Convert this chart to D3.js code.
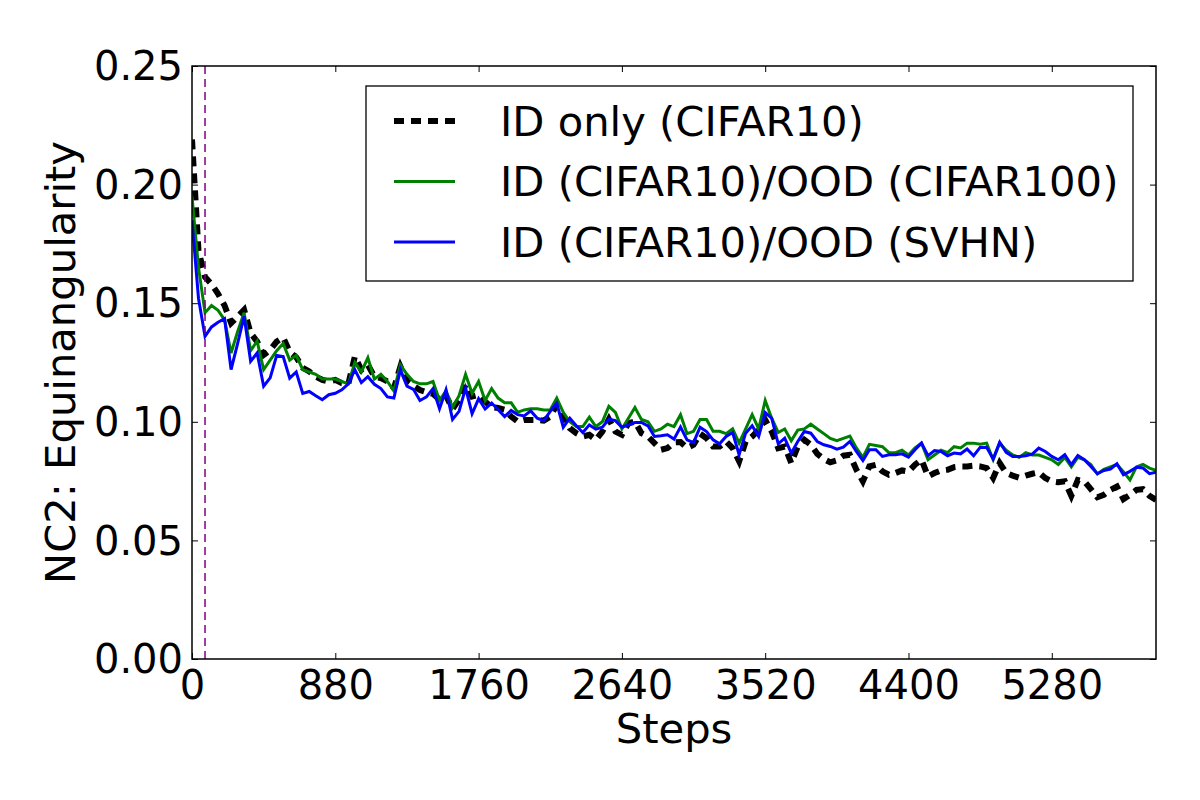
<!DOCTYPE html>
<html>
<head>
<meta charset="utf-8">
<script src="https://cdn.jsdelivr.net/npm/d3@7"></script>
<style>
  body { margin: 0; background: #fff; }
  svg text { font-family: "DejaVu Sans", sans-serif; fill: #000; }
</style>
</head>
<body>
<svg id="chart"></svg>
<script>
// training steps at which NC2 was logged
const steps = [0,40,80,120,160,200,240,280,320,360,400,440,480,520,560,600,640,680,720,760,
  800,840,880,920,960,1000,1040,1080,1120,1160,1200,1240,1280,1320,1360,1400,1440,1480,1520,1560,
  1600,1640,1680,1720,1760,1800,1840,1880,1920,1960,2000,2040,2080,2120,2160,2200,2240,2280,2320,2360,
  2400,2440,2480,2520,2560,2600,2640,2680,2720,2760,2800,2840,2880,2920,2960,3000,3040,3080,3120,3160,
  3200,3240,3280,3320,3360,3400,3440,3480,3520,3560,3600,3640,3680,3720,3760,3800,3840,3880,3920,3960,
  4000,4040,4080,4120,4160,4200,4240,4280,4320,4360,4400,4440,4480,4520,4560,4600,4640,4680,4720,4760,
  4800,4840,4880,4920,4960,5000,5040,5080,5120,5160,5200,5240,5280,5320,5360,5400,5440,5480,5520,5560,
  5600,5640,5680,5720,5760,5800,5840,5880,5920];

const idOnly = [
  .219,.172,.161,.158,.154,.149,.1416,.1444,.1472,.1374,
  .1338,.1282,.1303,.1338,.1355,.1295,.1272,.1228,.1212,.119,
  .1177,.117,.1177,.1163,.116,.1275,.1219,.124,.119,.1184,
  .117,.1142,.1233,.1172,.1152,.1134,.1125,.1118,.1093,.111,
  .1054,.1093,.1156,.1107,.1114,.1086,.1062,.1058,.1051,.1022,
  .1001,.1008,.1008,.1008,.1005,.1022,.1072,.1022,.0973,.0952,
  .0938,.0945,.0924,.0959,.1011,.0959,.0945,.0994,.1001,.0952,
  .0938,.091,.0882,.0889,.0913,.0915,.089,.0903,.095,.0931,
  .0896,.0896,.0917,.0889,.0833,.0917,.0938,.0966,.1008,.0959,
  .0889,.0896,.0826,.0896,.0924,.0903,.0865,.0843,.0829,.0837,
  .0857,.0861,.0798,.0749,.0812,.0819,.0791,.0777,.0784,.0795,
  .079,.0819,.084,.077,.0784,.0795,.0798,.0809,.0812,.0812,
  .0815,.0812,.0805,.0763,.0826,.0784,.0773,.0764,.0773,.0781,
  .0787,.0763,.0749,.0745,.0749,.0688,.0755,.0749,.0716,.0682,
  .0692,.0713,.0727,.0674,.0692,.0713,.0716,.0688,.0671];

const oodCifar100 = [
  .195,.165,.146,.149,.147,.143,.129,.138,.146,.130,
  .134,.122,.126,.130,.133,.126,.128,.122,.121,.120,
  .118,.118,.118,.117,.116,.125,.121,.127,.118,.120,
  .117,.113,.124,.120,.117,.116,.116,.117,.109,.113,
  .106,.111,.120,.112,.117,.109,.114,.110,.108,.108,
  .104,.105,.1055,.1055,.105,.105,.110,.104,.100,.098,
  .098,.102,.098,.100,.1065,.104,.097,.1015,.106,.101,
  .100,.096,.097,.099,.098,.103,.095,.096,.101,.101,
  .096,.096,.095,.097,.091,.097,.103,.097,.109,.1015,
  .0955,.097,.092,.0965,.097,.099,.097,.095,.093,.092,
  .093,.094,.089,.085,.0905,.090,.0895,.087,.087,.088,
  .086,.089,.091,.084,.086,.088,.087,.0895,.089,.091,
  .091,.0905,.091,.084,.091,.088,.086,.085,.087,.086,
  .086,.085,.084,.082,.085,.081,.085,.084,.082,.078,
  .080,.081,.082,.079,.0755,.081,.082,.0805,.0795];

const oodSvhn = [
  .185,.152,.136,.140,.142,.1435,.122,.133,.1445,.1255,
  .129,.115,.1185,.128,.1275,.1184,.121,.112,.1128,.111,
  .1093,.1114,.112,.1135,.116,.122,.1165,.119,.1158,.114,
  .1105,.110,.122,.115,.1137,.109,.1105,.114,.1055,.1135,
  .101,.1044,.1142,.1034,.1097,.1054,.1079,.1051,.1022,.1048,
  .103,.1025,.1046,.1015,.1005,.1044,.1079,.0977,.1015,.0983,
  .0955,.0987,.0969,.0977,.1011,.1005,.0977,.0987,.0997,.0997,
  .0983,.0938,.0941,.0945,.0927,.0978,.0924,.0912,.0977,.0959,
  .0924,.0907,.0938,.0955,.0861,.0952,.0983,.0938,.1039,.1015,
  .0907,.0931,.0868,.0917,.0959,.0952,.0917,.0903,.0896,.0885,
  .0893,.0917,.0875,.0837,.0882,.0882,.0854,.0861,.0861,.0865,
  .0851,.0882,.091,.0857,.0879,.0875,.0857,.0868,.0865,.0885,
  .0857,.0892,.0893,.0843,.0914,.0871,.0854,.0854,.0857,.0864,
  .0889,.0875,.0854,.084,.0861,.0819,.0858,.084,.0812,.0781,
  .0795,.0801,.0823,.0777,.0791,.0808,.0805,.0781,.0787];

const seriesNames = ["ID only (CIFAR10)", "ID (CIFAR10)/OOD (CIFAR100)", "ID (CIFAR10)/OOD (SVHN)"];
const xTicks = [0, 880, 1760, 2640, 3520, 4400, 5280];
const yTicks = [0, 0.05, 0.10, 0.15, 0.20, 0.25];
const markerStep = 80;

// line styles, one per series
const styles = [
    { color: "#000000", width: 6, dash: "10,7" },
    { color: "#008000", width: 3, dash: null },
    { color: "#0000ff", width: 3, dash: null }
];
const seriesValues = [idOnly, oodCifar100, oodSvhn];

const margin = { top: 66, right: 44, bottom: 141, left: 192 };
const width = 1200 - margin.left - margin.right;
const height = 800 - margin.top - margin.bottom;

const svg = d3.select("#chart")
    .attr("width", 1200)
    .attr("height", 800);

const g = svg.append("g")
    .attr("transform", `translate(${margin.left},${margin.top})`);

const x = d3.scaleLinear().domain([0, 5920]).range([0, width]);
const y = d3.scaleLinear().domain([0, 0.25]).range([height, 0]);

g.append("clipPath").attr("id", "plot-clip")
    .append("rect").attr("width", width).attr("height", height);

// series lines
const line = d3.line()
    .x((d, i) => x(steps[i]))
    .y(d => y(d));

const plot = g.append("g").attr("clip-path", "url(#plot-clip)");

seriesValues.forEach(function (vals, k) {
    plot.append("path")
        .datum(vals)
        .attr("fill", "none")
        .attr("stroke", styles[k].color)
        .attr("stroke-width", styles[k].width)
        .attr("stroke-dasharray", styles[k].dash)
        .attr("stroke-linejoin", "miter")
        .attr("d", line);
});

// vertical marker
plot.append("line")
    .attr("x1", x(markerStep)).attr("x2", x(markerStep))
    .attr("y1", 0).attr("y2", height)
    .attr("stroke", "#800080")
    .attr("stroke-width", 1.5)
    .attr("stroke-dasharray", "8,5");

// axes, ticks point inward like classic matplotlib
const tickFont = "40px";
const labelFont = "41.7px";

const xAxis = g.append("g")
    .attr("transform", `translate(0,${height})`)
    .call(d3.axisBottom(x).tickValues(xTicks).tickFormat(d3.format("d"))
        .tickSizeInner(-6).tickSizeOuter(0).tickPadding(12));
xAxis.selectAll("text").style("font-size", tickFont);

const yAxis = g.append("g")
    .call(d3.axisLeft(y).tickValues(yTicks).tickFormat(d3.format(".2f"))
        .tickSizeInner(-6).tickSizeOuter(0).tickPadding(9));
yAxis.selectAll("text").style("font-size", tickFont).attr("dy", "0.34em");

g.append("g")
    .call(d3.axisTop(x).tickValues(xTicks).tickFormat("").tickSizeInner(-6).tickSizeOuter(0));
g.append("g")
    .attr("transform", `translate(${width},0)`)
    .call(d3.axisRight(y).tickValues(yTicks).tickFormat("").tickSizeInner(-6).tickSizeOuter(0));

g.selectAll(".domain").remove();
g.selectAll(".tick line").attr("stroke", "#000").attr("stroke-width", 1);

// frame
g.append("rect")
    .attr("width", width).attr("height", height)
    .attr("fill", "none").attr("stroke", "#000").attr("stroke-width", 1.5);

// axis labels
g.append("text")
    .attr("text-anchor", "middle")
    .attr("x", width / 2)
    .attr("y", height + 84)
    .style("font-size", labelFont)
    .text("Steps");

g.append("text")
    .attr("text-anchor", "middle")
    .attr("transform", `translate(${-117},${height / 2}) rotate(-90)`)
    .style("font-size", labelFont)
    .text("NC2: Equinangularity");

// legend
const legend = g.append("g").attr("transform", "translate(174,20)");
legend.append("rect")
    .attr("width", 767).attr("height", 195)
    .attr("fill", "#fff").attr("stroke", "#000").attr("stroke-width", 1.3);

seriesNames.forEach(function (name, k) {
    const rowY = 35 + k * 60.5;
    legend.append("line")
        .attr("x1", 28).attr("x2", 89)
        .attr("y1", rowY).attr("y2", rowY)
        .attr("stroke", styles[k].color)
        .attr("stroke-width", styles[k].width)
        .attr("stroke-dasharray", styles[k].dash);
    legend.append("text")
        .attr("x", 134)
        .attr("y", rowY)
        .attr("dy", "0.35em")
        .style("font-size", labelFont)
        .text(name);
});
</script>
</body>
</html>
